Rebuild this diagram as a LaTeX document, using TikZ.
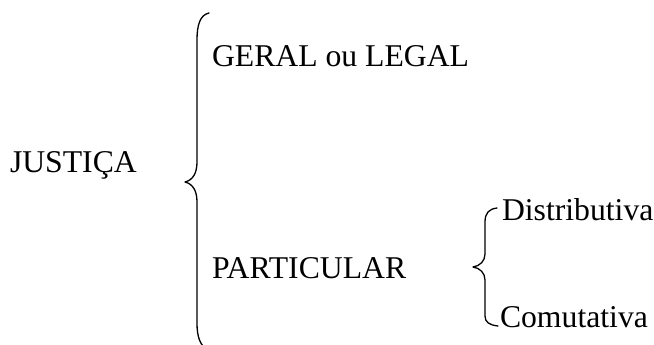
\documentclass[tikz,border=0pt]{standalone}
\usepackage{fontspec}
\setmainfont{Liberation Serif}
\begin{document}
\begin{tikzpicture}[x=1pt,y=-1pt,
  lbl/.style={anchor=base west,inner sep=0pt,outer sep=0pt,font=\fontsize{31.7}{36}\selectfont},
  bracepath/.style={draw=black,line width=1.3pt,line cap=round,line join=round}]
\useasboundingbox (0,0) rectangle (654,345);
\clip (0,0) rectangle (654,345);
\node[lbl] (just) at (10,172) {JUSTIÇA};
\node[lbl] (geral) at (212,67) {GERAL ou LEGAL};
\node[lbl] (part) at (212,278) {PARTICULAR};
\node[lbl] (dist) at (502,220) {Distributiva};
\node[lbl] (comu) at (500,327) {Comutativa};
% big brace
\path[bracepath] (209,13) .. controls (200,15) and (197,25) .. (197,40) -- (197,162)
  .. controls (197,173) and (193,180) .. (185,182)
  .. controls (193,184) and (197,191) .. (197,202) -- (197,323)
  .. controls (197,337) and (200,346) .. (209,351);
% small brace
\path[bracepath] (497,208) .. controls (489,209) and (485,213) .. (485,222) -- (485,254)
  .. controls (485,261) and (480,266) .. (473,267)
  .. controls (480,268) and (485,273) .. (485,280) -- (485,316)
  .. controls (485,322) and (489,325) .. (498,326);
\end{tikzpicture}
\end{document}
